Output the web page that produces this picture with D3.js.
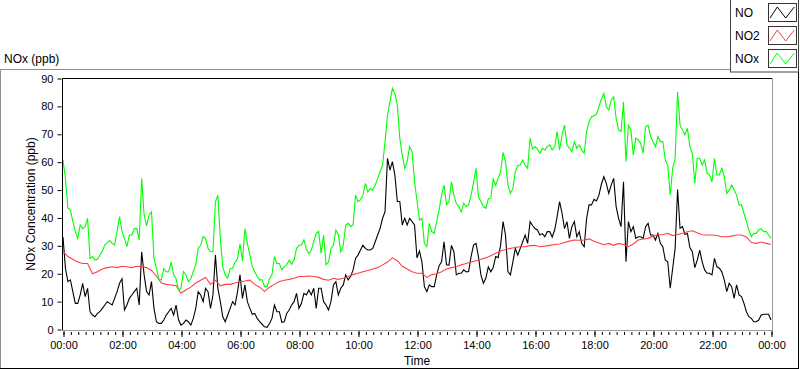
<!DOCTYPE html>
<html>
<head>
<meta charset="utf-8">
<script src="https://cdn.jsdelivr.net/npm/d3@7"></script>
<style>
  body { margin: 0; background: #fff; }
  svg { display: block; font-family: "Liberation Sans", Arial, sans-serif; }
  .axis text { font-size: 11px; fill: #000; }
  .axis line { stroke: #000; }
</style>
</head>
<body>
<script>
// NO and NOx read every 5 minutes, NO2 every 10 minutes, 00:00 .. 24:00
var noValues = [
  33, 21.7, 17, 17.6, 13.4, 9.2, 9.2, 12.2, 16.4, 11.6, 14.6, 6.2, 5, 4.4, 5.6, 6.2, 7.4, 8.6, 9.8, 9.2,
  8.6, 11, 13.4, 16.4, 18, 6.8, 8.6, 11, 12.2, 13.4, 14.6, 8.6, 27.7, 19.4, 13.4, 12.2, 17, 7.4, 2.6, 2,
  2, 3.2, 5, 6.2, 7.4, 5, 8.6, 3.2, 1.4, 2, 3.2, 2.6, 1.4, 3.8, 7.4, 13.4, 12.2, 9.8, 14.6, 13.4,
  7.4, 12.2, 26.5, 14.6, 9.8, 4.4, 2.6, 5, 7.4, 9.8, 8.6, 13.4, 19.4, 11, 15.8, 9.8, 7.4, 5.3, 5.6, 3.8,
  2.6, 1.7, 0.8, 0.6, 2, 3.8, 8.6, 6.2, 6.2, 2.4, 2.6, 5.6, 6.8, 8.6, 9.8, 12.8, 7.4, 9.2, 12.8, 12.2,
  14, 12.2, 14.6, 7.4, 14.6, 14.6, 9.8, 8.6, 6.8, 9.8, 15.8, 17, 12.2, 14.6, 15.8, 19.4, 17.6, 18.8, 21.2, 25.3,
  26.5, 28.3, 30, 28.9, 28.3, 28.3, 28.9, 31.3, 33.7, 36.1, 39.7, 42.1, 61.2, 57, 60, 55.2, 45.7, 45.7, 37.3, 39.7,
  37.3, 39.7, 38.5, 37.3, 25.5, 28, 24.1, 15.2, 13.4, 15.8, 15.2, 15.2, 19.4, 22.7, 24.1, 31.3, 23, 22.9, 30, 27.7,
  19.4, 20, 20, 21.2, 20.5, 20.6, 26, 30.1, 30.7, 25.9, 19.4, 16.4, 18.2, 22.3, 20.5, 22, 26, 25.6, 30, 38.5,
  33.7, 20.6, 19.4, 24.1, 28.9, 26.5, 28.9, 31.3, 33.7, 30.7, 38.5, 37.1, 36, 35.5, 33.7, 34.2, 33.1, 34.9, 34.9, 33,
  35.5, 40.3, 45.7, 41.5, 36, 38.5, 32.5, 36.7, 38.5, 33.1, 34.9, 30.7, 29.5, 39.7, 44.5, 44.5, 46.5, 45.9, 48, 51.9,
  54.6, 52.2, 48.6, 51.6, 54, 43.9, 39.7, 36.7, 52.8, 24.1, 38.5, 34.9, 36.7, 32.5, 33.1, 33.1, 32.5, 36.7, 37.9, 33.7,
  33.7, 31.9, 34.3, 30.7, 29.5, 24.7, 24.1, 14.6, 21.7, 28.9, 50, 36.1, 36.7, 33.9, 34.3, 29.2, 27.7, 22, 24.7, 28.3,
  24.1, 21.2, 20, 20, 19.4, 25.3, 22.3, 21.8, 20.5, 17.6, 13.4, 16.4, 15.2, 11, 15.8, 12.2, 11.6, 9.2, 6.2, 4.4,
  3.8, 2.6, 2.6, 3.2, 5, 5.3, 5.3, 5.3, 3.2];

var no2Values = [27.7, 26, 25, 24, 23.5, 23.5, 19.8, 20.5, 21.5, 22, 22.3, 22, 22.5, 22.3, 22, 22.5, 22.3, 22, 21,
  19, 16.5, 16, 15.8, 15.5, 12.8, 14, 15, 16.5, 17.5, 18.5, 16, 17.5, 15.5, 16, 16, 16.5, 17,
  17.2, 17.5, 16, 15, 13.5, 15, 16, 17, 17.5, 17.8, 18.2, 18.8, 18.8, 19, 18.8, 18.5, 17.8, 17.5, 18.2, 17.8,
  18.2, 18.8, 19.5, 20, 20.5, 21, 21.5, 22, 23, 24, 25.5, 24.5, 22.5, 21.5, 20.5, 20,
  20, 18.5, 19.5, 19.8, 20.5, 21.5, 22, 22.3, 23, 23.5, 24, 24.5, 25, 25.5, 26.3, 27.2, 28, 28.5,
  28.9, 29.2, 29.5, 29.5, 29.9, 30, 29.5, 29.7, 30, 30.3, 30.5, 31, 31.5, 31.9, 31.8, 31.9, 32.3, 31.5,
  30.8, 30.2, 30.7, 30, 30.7, 30.3, 29.5, 30.5, 31.9, 32.3, 32.5, 33.3, 33.8, 33.8, 34.3, 33.5, 33.9,
  34.3, 34.9, 35.2, 34.5, 33.8, 33.7, 33.7, 33.5, 33.1, 33.1, 33.3, 33.7, 33.7, 33, 31, 30.7, 31.2, 30.7, 30.3];

var noxValues = [
  60.6, 54, 43.3, 42.7, 38.5, 34.9, 32.5, 37.3, 36, 36.7, 39.7, 25.3, 26, 24.7, 25, 26.5, 28, 30.1, 31, 31.7,
  30.7, 30.1, 35, 40.3, 35, 32.5, 29.5, 33.7, 33.7, 36, 36, 31.9, 54, 40.9, 37, 40.9, 42, 25.3, 21.7, 17.9,
  17.6, 21.7, 20.5, 20.6, 24, 19.4, 18, 14, 14.6, 20.6, 19.4, 17, 18, 20.6, 23, 28.9, 30, 33.1, 32.5, 28.9,
  27.7, 27.7, 45.6, 48, 32.5, 22.3, 19.4, 18.2, 21.7, 21.7, 24, 25.3, 30.5, 24.4, 36, 30.7, 26.5, 22.3, 20.5, 18.8,
  17.6, 17.6, 15.2, 15.2, 18, 19.4, 26, 23.5, 23.5, 21.2, 22.3, 23, 24.7, 23.2, 24.7, 28.9, 30, 30.1, 32, 28.7,
  27, 28.3, 31.3, 34.3, 35, 27.1, 33.7, 23, 24, 28.9, 30, 35.5, 33.7, 27.7, 30, 37.3, 37.9, 36.7, 37.3, 48,
  45.7, 46.3, 48, 52.2, 49.2, 50.4, 49.8, 51.6, 54, 56.4, 58.8, 67.2, 76.7, 81.5, 86.3, 84.5, 80.3, 68.4, 62.4, 57.6,
  60, 65.4, 63.6, 52.8, 46, 39.1, 39.7, 30.7, 29.5, 37.9, 35, 34.3, 38.5, 42.7, 48, 51.6, 44.5, 45.7, 52.8, 48,
  45, 43.9, 42, 45.1, 43.9, 44.5, 48, 52.6, 57.6, 47.4, 45.7, 43.9, 43.3, 46.6, 46.9, 53.8, 51.6, 54, 56.4, 63.3,
  60, 51.6, 48.6, 50.4, 56.4, 58.6, 58.8, 60.6, 58.8, 57.6, 68.4, 64.5, 65.4, 64.5, 63, 64.8, 64.2, 65.4, 66, 64.2,
  65.4, 70.8, 64.2, 69.6, 73.1, 66, 64.8, 63.6, 67.2, 64.8, 66, 64.2, 63, 70.8, 74.3, 76.1, 76.5, 77, 79.7, 82.5,
  84.5, 79.7, 78.5, 82, 83.3, 75.5, 71.4, 70.8, 81.5, 60, 73.1, 71.4, 62.4, 68.4, 67.8, 66.6, 63, 72.5, 73.1, 69,
  67.2, 65.4, 69, 67.2, 67.2, 60.6, 58.8, 48, 57.6, 61.2, 85, 73.1, 71.4, 69.6, 72, 65.4, 63, 52.2, 61.2, 61.2,
  58.8, 60.6, 55.8, 55.2, 52.8, 61.2, 55.2, 55.2, 57.6, 54.6, 48.6, 49.8, 51.6, 49.8, 48, 44.5, 44.5, 41.5, 38.5, 35.5,
  33.1, 34.3, 34.3, 35.5, 36, 34.9, 35, 33.7, 32.5];

var seriesNames = ["NO", "NO2", "NOx"];
var seriesColors = ["#000000", "#ff4040", "#00ff00"];
var seriesSteps = [5, 10, 5];
var seriesData = [noValues, no2Values, noxValues];

var yTicks = [0, 10, 20, 30, 40, 50, 60, 70, 80, 90];
var xMajorTicks = [0, 120, 240, 360, 480, 600, 720, 840, 960, 1080, 1200, 1320, 1440];
var xTickLabels = ["00:00", "02:00", "04:00", "06:00", "08:00", "10:00", "12:00",
                   "14:00", "16:00", "18:00", "20:00", "22:00", "00:00"];

var svg = d3.select("body")
      .append("svg")
      .attr("width", 800)
      .attr("height", 369);

var plot = {left: 62, top: 78, right: 772, bottom: 330};

var x = d3.scaleLinear().domain([0, 1440]).range([63, 771]);
var y = d3.scaleLinear().domain([0, 90]).range([329, 78]);

// outer panel frame
svg.append("line").attr("x1", 0.5).attr("y1", 69.5).attr("x2", 730).attr("y2", 69.5).attr("stroke", "#8c8c8c");
svg.append("line").attr("x1", 0.5).attr("y1", 69.5).attr("x2", 0.5).attr("y2", 368).attr("stroke", "#8c8c8c");
svg.append("line").attr("x1", 0).attr("y1", 368.5).attr("x2", 799).attr("y2", 368.5).attr("stroke", "#000");
svg.append("line").attr("x1", 798.5).attr("y1", 72).attr("x2", 798.5).attr("y2", 369).attr("stroke", "#000");

svg.append("text")
  .attr("x", 4).attr("y", 63)
  .attr("font-size", 12)
  .text("NOx (ppb)");

// plot frame
svg.append("line").attr("x1", plot.left + 0.5).attr("y1", plot.top + 0.5).attr("x2", plot.right).attr("y2", plot.top + 0.5).attr("stroke", "#000");
svg.append("line").attr("x1", plot.left + 0.5).attr("y1", plot.top + 0.5).attr("x2", plot.left + 0.5).attr("y2", plot.bottom + 0.5).attr("stroke", "#000");
svg.append("line").attr("x1", plot.right + 0.5).attr("y1", plot.top).attr("x2", plot.right + 0.5).attr("y2", plot.bottom + 1).attr("stroke", "#9a9a9a");
svg.append("line").attr("x1", plot.left).attr("y1", plot.bottom + 0.5).attr("x2", plot.right + 1).attr("y2", plot.bottom + 0.5).attr("stroke", "#9a9a9a");

svg.append("clipPath").attr("id", "clip")
  .append("rect")
  .attr("x", plot.left + 1).attr("y", plot.top + 1)
  .attr("width", plot.right - plot.left - 1).attr("height", plot.bottom - plot.top - 1);

// axes
var yAxis = svg.append("g")
  .attr("class", "axis")
  .attr("transform", "translate(61.5,0.5)")
  .call(d3.axisLeft(y).tickValues(yTicks).tickSize(4).tickPadding(4));
yAxis.select(".domain").remove();

var xMinor = svg.append("g")
  .attr("class", "axis")
  .attr("transform", "translate(0.5,332)")
  .call(d3.axisBottom(x).tickValues(d3.range(0, 1441, 15)).tickSize(3).tickFormat(""));
xMinor.select(".domain").remove();

var xMajor = svg.append("g")
  .attr("class", "axis")
  .attr("transform", "translate(0.5,331)")
  .call(d3.axisBottom(x).tickValues(xMajorTicks).tickSize(6).tickPadding(4)
    .tickFormat(function(d, i) { return xTickLabels[i]; }));
xMajor.select(".domain").remove();

svg.append("text")
  .attr("x", (plot.left + plot.right) / 2).attr("y", 365)
  .attr("text-anchor", "middle")
  .attr("font-size", 12)
  .text("Time");

svg.append("text")
  .attr("transform", "translate(35," + ((plot.top + plot.bottom) / 2) + ") rotate(-90)")
  .attr("text-anchor", "middle")
  .attr("font-size", 12)
  .text("NOx Concentration (ppb)");

// series, drawn NO first and NOx last
svg.append("g")
  .attr("clip-path", "url(#clip)")
  .selectAll("path")
  .data(seriesData)
  .enter().append("path")
    .attr("d", function(d, s) {
      return d3.line()
        .x(function(v, i) { return x(i * seriesSteps[s]); })
        .y(function(v) { return y(v); })(d);
    })
    .attr("fill", "none")
    .attr("stroke", function(d, i) { return seriesColors[i]; })
    .attr("stroke-width", 1.1);

// legend
var legend = svg.append("g");
legend.append("rect")
  .attr("x", 730.5).attr("y", -1).attr("width", 68).attr("height", 73)
  .attr("fill", "#fff").attr("stroke", "#444");

var zig = [[0, 1], [0.27, 0], [0.58, 1], [0.9, 0]];

var item = legend.selectAll("g.item")
  .data(seriesNames)
  .enter().append("g")
  .attr("class", "item")
  .attr("transform", function(d, i) { return "translate(0," + (i * 23) + ")"; });

item.append("text")
  .attr("x", 735).attr("y", 17)
  .attr("font-size", 12)
  .text(function(d) { return d; });

item.append("rect")
  .attr("x", 768.5).attr("y", 3.5).attr("width", 28).attr("height", 18)
  .attr("fill", "#fff").attr("stroke", "#333");

item.append("path")
  .attr("d", function() {
    return d3.line()(zig.map(function(p) { return [770 + p[0] * 27, 7 + p[1] * 11]; }));
  })
  .attr("fill", "none")
  .attr("stroke", function(d, i) { return seriesColors[i]; });
</script>
</body>
</html>
